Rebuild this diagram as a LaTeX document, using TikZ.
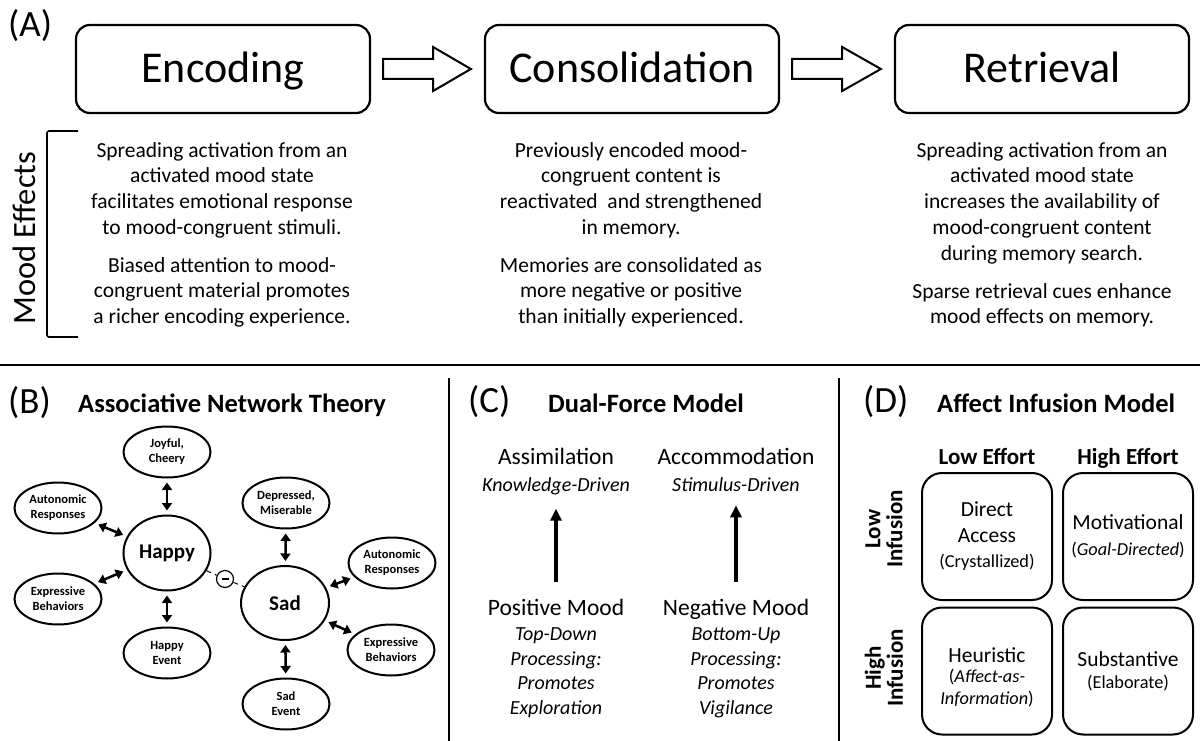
\documentclass[tikz,border=0pt]{standalone}
\usepackage{fontspec}
\setmainfont{Carlito}
\usetikzlibrary{calc,arrows.meta,shapes.geometric}
\begin{document}
\begin{tikzpicture}[x=1pt,y=-1pt,
  every node/.style={inner sep=0pt},
  stage/.style={draw, line width=2.2pt, rounded corners=14pt, minimum width=294pt, minimum height=88pt, text height=28pt, text depth=0pt, font=\fontsize{44}{50}\selectfont},
  blockarrow/.style={draw, line width=2pt, line join=miter},
  plabel/.style={anchor=base west, font=\fontsize{37}{40}\selectfont},
  ptitle/.style={anchor=base west, font=\fontsize{26.5}{30}\selectfont\bfseries},
  bodytext/.style={align=center, anchor=north, font=\fontsize{21.5}{25.8}\selectfont},
  ell/.style={draw, ellipse, line width=2pt, minimum width=87pt, minimum height=51pt, align=center, font=\fontsize{12.5}{15}\selectfont\bfseries},
  bigell/.style={ell, minimum height=75pt, font=\fontsize{21}{24}\selectfont\bfseries},
  dbl/.style={line width=2.5pt, {Triangle[length=7.5pt,width=10pt]}-{Triangle[length=7.5pt,width=10pt]}, shorten <=4pt, shorten >=4pt},
  dashlink/.style={line width=1pt, dash pattern=on 5pt off 4pt},
  divider/.style={line width=1.5pt},
  ctitle/.style={anchor=base, font=\fontsize{23.5}{27}\selectfont},
  csub/.style={anchor=base, font=\fontsize{20}{24}\selectfont\itshape},
  cblock/.style={anchor=north, align=center, font=\fontsize{20}{24.5}\selectfont\itshape},
  uparrow/.style={line width=3.5pt, -{Triangle[length=12pt,width=11pt]}},
  dbox/.style={draw, line width=2pt, rounded corners=20pt, minimum width=130pt, minimum height=127pt, align=center, font=\fontsize{21.5}{26}\selectfont},
  dtext/.style={align=center, font=\fontsize{21.5}{26}\selectfont},
  effort/.style={anchor=base, font=\fontsize{23}{26}\selectfont\bfseries},
  infus/.style={rotate=90, align=center, font=\fontsize{23}{22}\selectfont\bfseries}
]
\useasboundingbox (0,0) rectangle (1200,741);

% ---------- Panel A ----------
\node[plabel] (labA) at (8,37) {(A)};
\node[stage] (enc) at (223,69) {Encoding};
\node[stage] (con) at (632,69) {Consolidation};
\node[stage] (ret) at (1042,69) {Retrieval};

\draw[blockarrow] ($(enc.east)+(12,-10)$) -- ++(50,0) -- ++(0,-12) -- ($(con.west)+(-13,0)$) -- ($(enc.east)+(62,22)$) -- ++(0,-12) -- ($(enc.east)+(12,10)$) -- cycle;
\draw[blockarrow] ($(con.east)+(12,-10)$) -- ++(50,0) -- ++(0,-12) -- ($(ret.west)+(-13,0)$) -- ($(con.east)+(62,22)$) -- ++(0,-12) -- ($(con.east)+(12,10)$) -- cycle;

\draw[line width=1.6pt, rounded corners=2pt] (78,131) -- (47,131) -- (47,337) -- (78,337);
\node[rotate=90, font=\fontsize{32.5}{34}\selectfont] (mood) at (24.5,238) {Mood Effects};

\node[bodytext] (e1) at (222,142) {Spreading activation from an\\activated mood state\\facilitates emotional response\\to mood-congruent stimuli.};
\node[bodytext] (e2) at (222,257) {Biased attention to mood-\\congruent material promotes\\a richer encoding experience.};
\node[bodytext] (c1) at (631,142) {Previously encoded mood-\\congruent content is\\reactivated~ and strengthened\\in memory.};
\node[bodytext] (c2) at (631,257) {Memories are consolidated as\\more negative or positive\\than initially experienced.};
\node[bodytext] (r1) at (1042,142) {Spreading activation from an\\activated mood state\\increases the availability of\\mood-congruent content\\during memory search.};
\node[bodytext] (r2) at (1042,283) {Sparse retrieval cues enhance\\mood effects on memory.};

% ---------- dividers ----------
\draw[divider] (0,365) -- (1200,365);
\draw[divider] (449,378) -- (449,741);
\draw[divider] (839,378) -- (839,741);

% ---------- Panel B ----------
\node[plabel] (labB) at (8,413) {(B)};
\node[ptitle] (titB) at (78,412) {Associative Network Theory};

\node[ell] (joy) at (167,452) {Joyful,\\Cheery};
\node[ell] (autoL) at (58,508) {Autonomic\\Responses};
\node[bigell] (happy) at (167,553) {Happy};
\node[ell] (exprL) at (58,599) {Expressive\\Behaviors};
\node[ell] (hev) at (167,653) {Happy\\Event};
\node[ell] (dep) at (286,503) {Depressed,\\Miserable};
\node[bigell, minimum width=88pt, minimum height=74pt] (sad) at (285,603) {Sad};
\node[ell] (autoR) at (392,563) {Autonomic\\Responses};
\node[ell] (exprR) at (391,650) {Expressive\\Behaviors};
\node[ell] (sev) at (286,704) {Sad\\Event};
\node[draw, circle, line width=1.2pt, minimum size=17pt] (minus) at (225,579) {\rule{7pt}{2pt}};

\draw[dbl] (joy) -- (happy);
\draw[dbl] (autoL) -- (happy);
\draw[dbl] (exprL) -- (happy);
\draw[dbl] (happy) -- (hev);
\draw[dbl] (dep) -- (sad);
\draw[dbl] (sad) -- (autoR);
\draw[dbl] (sad) -- (exprR);
\draw[dbl] (sad) -- (sev);
\draw[dashlink] (happy) -- (minus);
\draw[dashlink] (minus) -- (sad);

% ---------- Panel C ----------
\node[plabel] (labC) at (468,412) {(C)};
\node[ptitle] (titC) at (548,412) {Dual-Force Model};

\node[ctitle] (assim) at (556,464.5) {Assimilation};
\node[csub] (assimsub) at (556,491) {Knowledge-Driven};
\node[ctitle] (accom) at (736,464.5) {Accommodation};
\node[csub] (accomsub) at (736,491) {Stimulus-Driven};

\node[ctitle] (posm) at (556,615.5) {Positive Mood};
\node[cblock] (posd) at (556,627.5) {Top-Down\\Processing:\\Promotes\\Exploration};
\node[ctitle] (negm) at (736,615.5) {Negative Mood};
\node[cblock] (negd) at (736,627.5) {Bottom-Up\\Processing:\\Promotes\\Vigilance};

\draw[uparrow, shorten <=17pt, shorten >=14pt] (posm.north) -- (assimsub.south);
\draw[uparrow, shorten <=17pt, shorten >=14pt] (negm.north) -- (accomsub.south);

% ---------- Panel D ----------
\node[plabel] (labD) at (863,412) {(D)};
\node[ptitle] (titD) at (937,412) {Affect Infusion Model};

\node[effort] (low) at (987,464.5) {Low Effort};
\node[effort] (high) at (1128,464.5) {High Effort};
\node[infus] (lowinf) at (884,529) {Low\\Infusion};
\node[infus] (highinf) at (884,668) {High\\Infusion};

\node[dbox] (da) at (987,536.5) {Direct\\Access\\[-1pt]\fontsize{18.3}{22}\selectfont(Crystallized)};
\node[dbox] (mo) at (1128,536.5) {Motivational\\\fontsize{18.3}{22}\selectfont(\textit{Goal-Directed})};
\node[dbox] (he) at (987,671) {};
\node[dtext] (het) at (987,677) {Heuristic\\[-6pt]\fontsize{18.3}{20}\selectfont(\textit{Affect-as-}\\[-4pt]\fontsize{18.3}{20}\selectfont\textit{Information})};
\node[dbox] (su) at (1128,671) {Substantive\\[-4pt]\fontsize{18.3}{21}\selectfont(Elaborate)};
\end{tikzpicture}
\end{document}
